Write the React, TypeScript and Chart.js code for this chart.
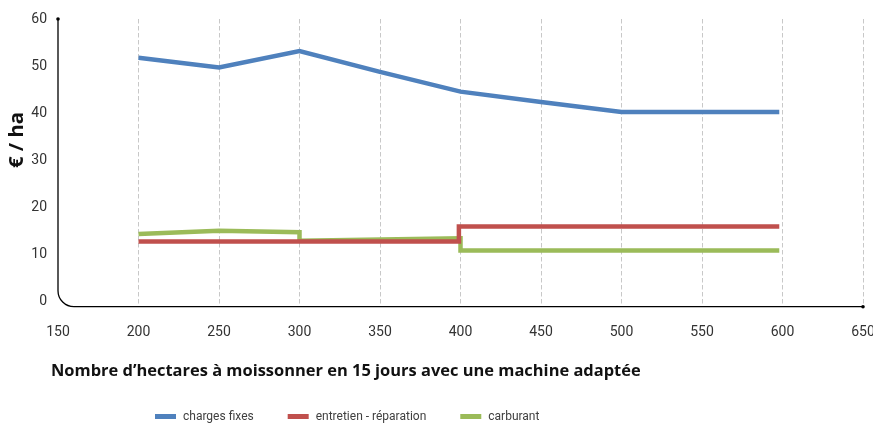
import { useEffect, useRef } from 'react';
import { Chart, registerables } from 'chart.js';

Chart.register(...registerables);

const seriesNames = ['charges fixes', 'entretien - réparation', 'carburant'];
const seriesColors = ['#4F81BD', '#C0504D', '#9BBB59'];

const chargesX = [200, 250, 300, 350, 400, 450, 500, 550, 598];
const chargesY = [51.8, 49.7, 53.2, 48.8, 44.6, 42.4, 40.3, 40.3, 40.3];

const entretienX = [200, 399, 399, 598];
const entretienY = [12.8, 12.8, 16.0, 16.0];

const carburantX = [200, 250, 300, 300, 400, 400, 598];
const carburantY = [14.4, 15.1, 14.8, 13.0, 13.5, 10.9, 10.9];

const xTicks = [150, 200, 250, 300, 350, 400, 450, 500, 550, 600, 650];
const yTicks = [0, 10, 20, 30, 40, 50, 60];

const yTitle = '€ / ha';
const xTitle = 'Nombre d’hectares à moissonner en 15 jours avec une machine adaptée';

const FONT = 'Roboto';
const TITLE_FONT = '"Open Sans"';

const toPoints = (xs: number[], ys: number[]) => xs.map((x, i) => ({ x, y: ys[i] }));

const fitFont = (ctx: CanvasRenderingContext2D, text: string, target: number) => {
  ctx.font = `bold 20px ${TITLE_FONT}`;
  const w = ctx.measureText(text).width;
  const size = (20 * target) / w;
  ctx.font = `bold ${size.toFixed(2)}px ${TITLE_FONT}`;
};

const axisFramePlugin = {
  id: 'axisFrame',
  beforeDatasetsDraw(chart: any) {
    const { ctx, chartArea, scales } = chart;
    const x = scales.x;
    const y = scales.y;
    const left = x.getPixelForValue(xTicks[0]);
    const right = x.getPixelForValue(xTicks[xTicks.length - 1]);
    const top = y.getPixelForValue(yTicks[yTicks.length - 1]);
    const bottom = chartArea.bottom;
    const r = 16;
    ctx.save();
    ctx.strokeStyle = '#000';
    ctx.lineWidth = 1.3;
    ctx.beginPath();
    ctx.moveTo(left, top);
    ctx.lineTo(left, bottom - r);
    ctx.arcTo(left, bottom, left + r, bottom, r);
    ctx.lineTo(right, bottom);
    ctx.stroke();
    ctx.fillStyle = '#000';
    ctx.beginPath();
    ctx.arc(left, top, 1.8, 0, Math.PI * 2);
    ctx.fill();
    ctx.beginPath();
    ctx.arc(right, bottom, 1.8, 0, Math.PI * 2);
    ctx.fill();
    ctx.restore();
  },
};

const textPlugin = {
  id: 'extraText',
  afterDraw(chart: any) {
    const { ctx } = chart;
    ctx.save();
    ctx.fillStyle = '#111';
    ctx.textAlign = 'left';
    ctx.textBaseline = 'alphabetic';
    // x-axis title
    fitFont(ctx, xTitle, 590);
    ctx.fillText(xTitle, 51, 376);
    // y-axis title (rotated)
    ctx.save();
    ctx.translate(22.5, 168);
    ctx.rotate(-Math.PI / 2);
    fitFont(ctx, yTitle, 56);
    ctx.fillText(yTitle, 0, 0);
    ctx.restore();
    // legend
    ctx.font = `12px ${FONT}`;
    ctx.textBaseline = 'middle';
    let cx = 155;
    const cy = 416.5;
    chart.data.datasets.forEach((ds: any) => {
      ctx.fillStyle = ds.borderColor;
      ctx.fillRect(cx, cy - 2.5, 21, 5);
      ctx.fillStyle = '#404040';
      ctx.fillText(ds.label, cx + 28, cy);
      cx += 28 + ctx.measureText(ds.label).width + 34;
    });
    ctx.restore();
  },
};

export default function App() {
  const canvasRef = useRef<HTMLCanvasElement | null>(null);

  useEffect(() => {
    if (!canvasRef.current) return;
    const chart = new Chart(canvasRef.current, {
      type: 'line',
      data: {
        datasets: [
          { label: seriesNames[0], data: toPoints(chargesX, chargesY), borderColor: seriesColors[0], backgroundColor: seriesColors[0] },
          { label: seriesNames[1], data: toPoints(entretienX, entretienY), borderColor: seriesColors[1], backgroundColor: seriesColors[1] },
          { label: seriesNames[2], data: toPoints(carburantX, carburantY), borderColor: seriesColors[2], backgroundColor: seriesColors[2] },
        ],
      },
      options: {
        animation: false,
        responsive: false,
        maintainAspectRatio: false,
        layout: { padding: { top: 19, right: 10, left: 0, bottom: 0 } },
        elements: {
          line: { borderWidth: 4.5, tension: 0, borderCapStyle: 'butt', borderJoinStyle: 'miter' },
          point: { radius: 0, hoverRadius: 0 },
        },
        plugins: {
          legend: { display: false },
          tooltip: { enabled: false },
        },
        scales: {
          x: {
            type: 'linear',
            min: 150,
            max: 650,
            afterBuildTicks: (s: any) => { s.ticks = xTicks.map((v) => ({ value: v })); },
            afterFit: (s: any) => { s.height = 426 - 306.7; s.paddingLeft = 0; s.paddingRight = 0; },
            ticks: {
              font: { family: FONT, size: 14 },
              color: '#333',
              padding: 17,
              maxRotation: 0,
              callback: (v: any) => String(v),
            },
            grid: {
              drawTicks: false,
              lineWidth: 1,
              color: (c: any) => (c.tick && c.tick.value === xTicks[0] ? 'rgba(0,0,0,0)' : '#c8c8c8'),
            },
            border: { display: false, dash: [4.5, 2.5] },
          },
          y: {
            type: 'linear',
            min: -1,
            max: 60,
            afterBuildTicks: (s: any) => { s.ticks = yTicks.map((v) => ({ value: v })); },
            afterFit: (s: any) => { s.width = 58; s.paddingTop = 0; s.paddingBottom = 0; },
            ticks: {
              font: { family: FONT, size: 14 },
              color: '#333',
              padding: 11,
              callback: (v: any) => String(v),
            },
            grid: { display: false, drawTicks: false },
            border: { display: false },
          },
        },
      },
      plugins: [axisFramePlugin, textPlugin],
    } as any);
    return () => chart.destroy();
  }, []);

  return (
    <div style={{ position: 'fixed', left: 0, top: 0, width: 873, height: 426, background: '#fff' }}>
      <canvas ref={canvasRef} width={873} height={426} style={{ width: 873, height: 426, display: 'block' }} />
    </div>
  );
}
